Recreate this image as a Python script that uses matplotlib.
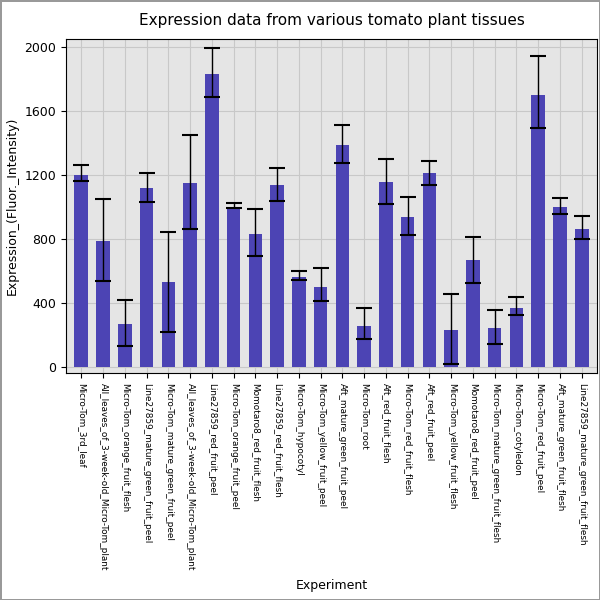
import matplotlib
matplotlib.use("Agg")
import matplotlib.pyplot as plt
import numpy as np

categories = ["Micro-Tom_3rd_leaf","All_leaves_of_3-week-old_Micro-Tom_plant","Micro-Tom_orange_fruit_flesh",
"Line27859_mature_green_fruit_peel","Micro-Tom_mature_green_fruit_peel","All_leaves_of_3-week-old_Micro-Tom_plant",
"Line27859_red_fruit_peel","Micro-Tom_orange_fruit_peel","Momotaro8_red_fruit_flesh","Line27859_red_fruit_flesh",
"Micro-Tom_hypocotyl","Micro-Tom_yellow_fruit_peel","Aft_mature_green_fruit_peel","Micro-Tom_root",
"Aft_red_fruit_flesh","Micro-Tom_red_fruit_flesh","Aft_red_fruit_peel","Micro-Tom_yellow_fruit_flesh",
"Momotaro8_red_fruit_peel","Micro-Tom_mature_green_fruit_flesh","Micro-Tom_cotyledon","Micro-Tom_red_fruit_peel",
"Aft_mature_green_fruit_flesh","Line27859_mature_green_fruit_flesh"]
values = [1200,785,270,1120,530,1150,1830,1000,830,1140,560,500,1385,255,1155,935,1210,230,665,240,370,1700,1000,860]
err_low = [1160,535,130,1030,215,860,1690,990,695,1035,540,410,1275,175,1020,825,1140,20,525,145,325,1495,955,800]
err_high = [1265,1050,420,1215,845,1450,1995,1025,985,1245,600,615,1510,365,1300,1060,1290,455,810,355,435,1945,1055,945]

v = np.array(values); lo = np.array(err_low); hi = np.array(err_high)
fig, ax = plt.subplots(figsize=(6,6), dpi=100)
fig.subplots_adjust(left=0.11, right=0.995, top=0.935, bottom=0.378)
x = np.arange(len(categories))
ax.set_facecolor("#e5e5e5")
ax.grid(True, color="#c8c8c8", linewidth=0.8)
ax.set_axisbelow(True)
ax.bar(x, v, width=0.62, color="#4c44b4")
ax.errorbar(x, v, yerr=[v-lo, hi-v], fmt="none", ecolor="black", elinewidth=1, capsize=6, capthick=1.5)
ax.set_xticks(x)
ax.set_xticklabels(categories, rotation=-90, fontsize=6.4)
ax.set_yticks([0,400,800,1200,1600,2000])
ax.tick_params(axis="y", labelsize=9)
ax.set_xlim(-0.7, len(categories)-0.3)
ax.set_ylim(-40, 2050)
ax.set_xlabel("Experiment", fontsize=9, labelpad=6)
ax.set_ylabel("Expression_(Fluor._Intensity)", fontsize=9)
ax.set_title("Expression data from various tomato plant tissues", fontsize=11, pad=10)
fig.patch.set_edgecolor("#999999"); fig.patch.set_linewidth(1)
fig.savefig("out.png", dpi=100, edgecolor=fig.get_edgecolor())
